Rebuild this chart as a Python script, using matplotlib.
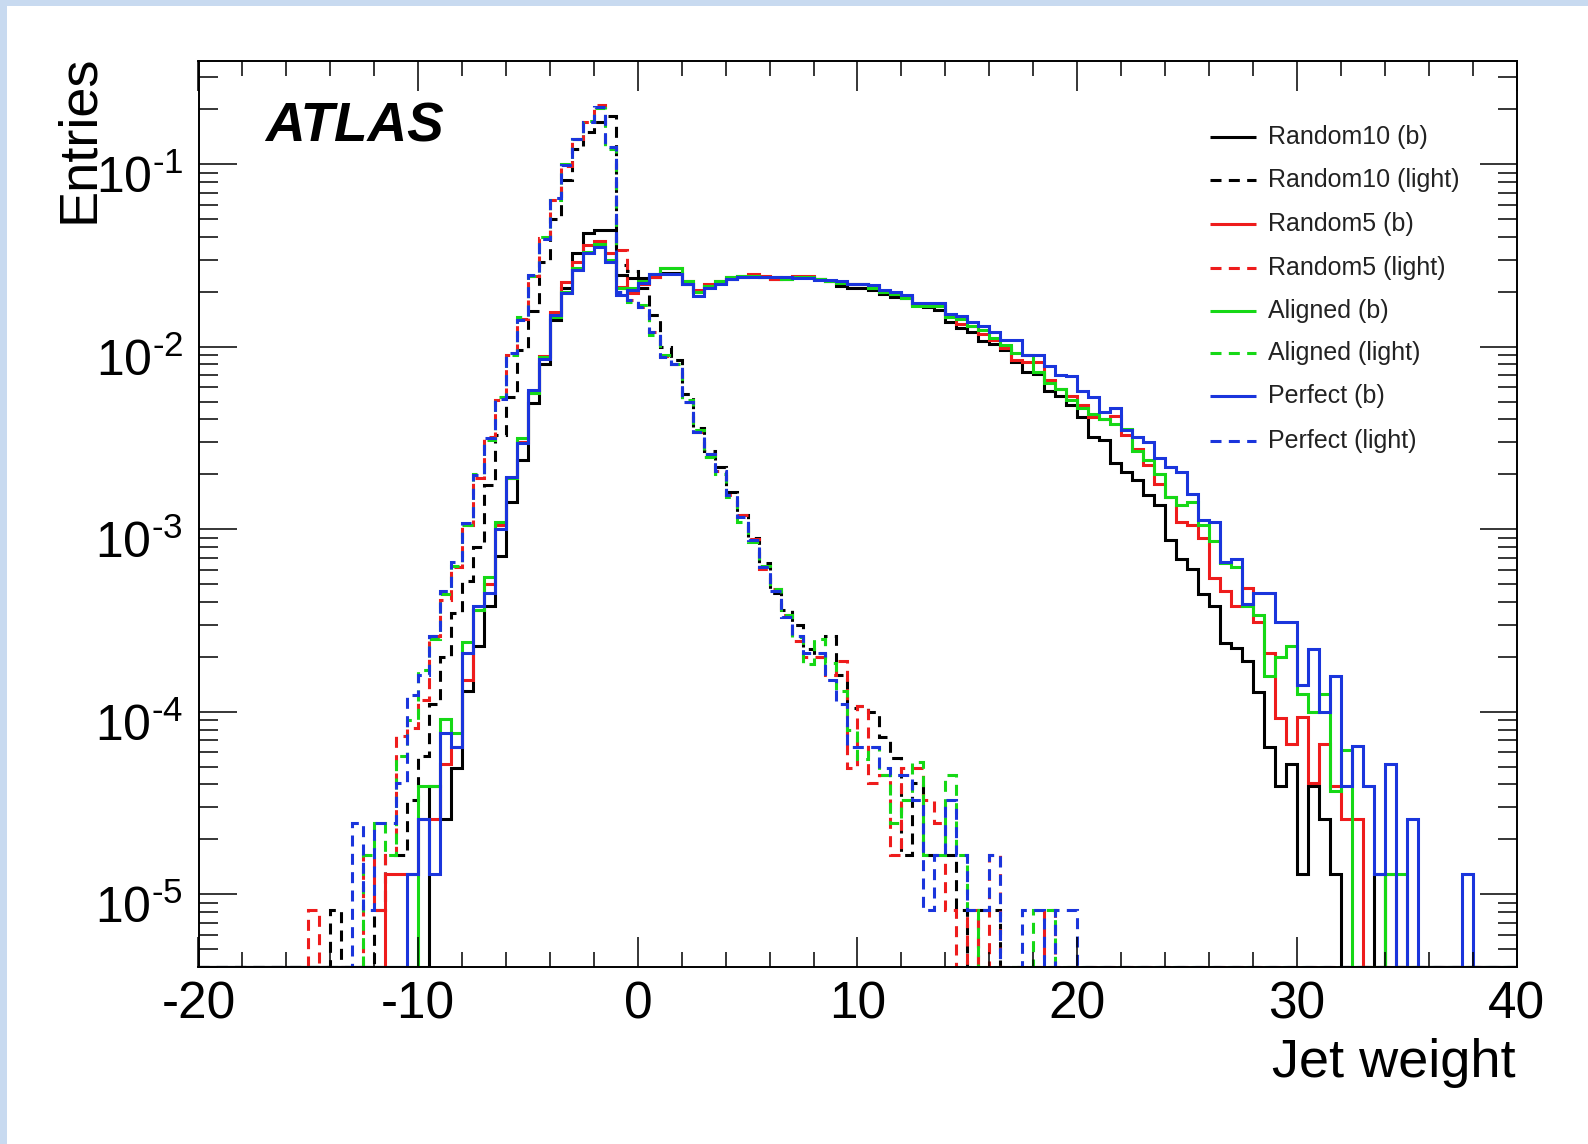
import numpy as np
import matplotlib
matplotlib.use("Agg")
import matplotlib.pyplot as plt
import matplotlib.transforms as mtransforms
from matplotlib.ticker import MultipleLocator, LogLocator, NullFormatter
from matplotlib.patches import Rectangle

plt.rcParams['font.family'] = ['Liberation Sans', 'DejaVu Sans']
plt.rcParams['mathtext.fontset'] = 'custom'
plt.rcParams['mathtext.rm'] = 'Liberation Sans'
plt.rcParams['mathtext.it'] = 'Liberation Sans:italic'
plt.rcParams['axes.unicode_minus'] = False

# ---------------- data (bin width 0.5, values per bin) ----------------
bin_width = 0.5
x_min, x_max = -20.0, 40.0

labels = ["Random10 (b)", "Random10 (light)", "Random5 (b)", "Random5 (light)",
          "Aligned (b)", "Aligned (light)", "Perfect (b)", "Perfect (light)"]

light_start = -15.0
b_start = -11.5

random10_light = [
    0, 0, 8.2e-6, 0, 0, 0, 8.2e-6, 1.64e-5, 1.64e-5, 3.3e-5,
    5.7e-5, 1.1e-4, 2.0e-4, 3.5e-4, 5.2e-4, 8.0e-4, 1.75e-3, 3.3e-3, 5.3e-3, 9.6e-3,
    1.58e-2, 2.9e-2, 5.0e-2, 8.2e-2, 0.122, 0.15, 0.17, 0.183, 2.8e-2, 2.6e-2,
    2.1e-2, 1.5e-2, 1.0e-2, 8.5e-3, 5.5e-3, 3.6e-3, 2.7e-3, 2.2e-3, 1.6e-3, 1.2e-3,
    9.0e-4, 6.5e-4, 4.5e-4, 3.6e-4, 3.0e-4, 2.2e-4, 2.0e-4, 2.6e-4, 1.6e-4, 1.05e-4,
    1.07e-4, 1.0e-4, 7.3e-5, 5.6e-5, 1.64e-5, 4.1e-5, 1.64e-5, 1.64e-5, 1.64e-5, 8.2e-6,
    0, 8.2e-6, 8.2e-6, 0, 0, 0, 0, 0, 0, 0,
]
random5_light = [
    8.2e-6, 0, 0, 0, 0, 1.64e-5, 8.2e-6, 1.64e-5, 7.4e-5, 8.2e-5,
    1.16e-4, 2.6e-4, 4.1e-4, 6.2e-4, 1.05e-3, 1.9e-3, 3.2e-3, 5.1e-3, 9.0e-3, 1.42e-2,
    2.45e-2, 3.95e-2, 6.4e-2, 9.8e-2, 0.138, 0.17, 0.21, 0.125, 3.4e-2, 1.8e-2,
    1.65e-2, 1.2e-2, 8.9e-3, 8.1e-3, 5.0e-3, 3.4e-3, 2.6e-3, 2.1e-3, 1.55e-3, 1.2e-3,
    8.8e-4, 6.1e-4, 4.7e-4, 3.4e-4, 2.45e-4, 2.0e-4, 2.0e-4, 1.6e-4, 1.9e-4, 4.9e-5,
    1.07e-4, 4.1e-5, 4.5e-5, 1.64e-5, 4.9e-5, 4.9e-5, 3.3e-5, 2.45e-5, 8.2e-6, 0,
    8.2e-6, 0, 1.64e-5, 0, 0, 0, 0, 8.2e-6, 0, 0,
]
aligned_light = [
    0, 0, 0, 0, 0, 1.64e-5, 2.45e-5, 1.64e-5, 5.7e-5, 9.0e-5,
    1.7e-4, 2.5e-4, 4.4e-4, 6.3e-4, 1.05e-3, 2.0e-3, 3.1e-3, 5.3e-3, 9.0e-3, 1.45e-2,
    2.45e-2, 4.0e-2, 6.4e-2, 0.100, 0.137, 0.172, 0.203, 0.122, 2.1e-2, 1.75e-2,
    1.7e-2, 1.16e-2, 9.0e-3, 8.0e-3, 5.1e-3, 3.5e-3, 2.5e-3, 2.0e-3, 1.5e-3, 1.1e-3,
    8.5e-4, 6.3e-4, 4.7e-4, 3.4e-4, 2.58e-4, 1.84e-4, 2.5e-4, 1.85e-4, 1.3e-4, 8.0e-5,
    5.5e-5, 6.4e-5, 4.5e-5, 2.45e-5, 3.3e-5, 5.3e-5, 1.64e-5, 1.64e-5, 4.5e-5, 1.64e-5,
    8.2e-6, 0, 0, 0, 0, 0, 8.2e-6, 8.2e-6, 0, 0,
]
perfect_light = [
    0, 0, 0, 0, 2.45e-5, 8.2e-6, 2.45e-5, 2.45e-5, 4.1e-5, 1.23e-4,
    1.6e-4, 2.6e-4, 4.6e-4, 6.6e-4, 1.08e-3, 1.98e-3, 3.15e-3, 5.2e-3, 9.2e-3, 1.4e-2,
    2.47e-2, 3.9e-2, 6.5e-2, 9.9e-2, 0.138, 0.171, 0.206, 0.124, 2.0e-2, 1.8e-2,
    1.65e-2, 1.2e-2, 8.8e-3, 8.1e-3, 5.0e-3, 3.4e-3, 2.6e-3, 2.1e-3, 1.54e-3, 1.17e-3,
    8.7e-4, 6.2e-4, 4.6e-4, 3.3e-4, 2.6e-4, 2.1e-4, 2.1e-4, 1.5e-4, 1.1e-4, 6.4e-5,
    6.4e-5, 6.4e-5, 4.9e-5, 4.5e-5, 4.5e-5, 3.3e-5, 8.2e-6, 1.64e-5, 3.3e-5, 1.64e-5,
    8.2e-6, 8.2e-6, 1.64e-5, 0, 0, 8.2e-6, 8.2e-6, 0, 8.2e-6, 8.2e-6,
]

random10_b = [
    0, 0, 0, 0, 3.9e-5, 2.6e-5, 4.9e-5, 1.3e-4, 2.3e-4, 3.8e-4,
    7.1e-4, 1.42e-3, 2.39e-3, 4.9e-3, 8.0e-3, 1.4e-2, 2.1e-2, 3.25e-2, 4.18e-2, 4.35e-2,
    4.35e-2, 2.47e-2, 2.37e-2, 2.37e-2, 2.4e-2, 2.55e-2, 2.55e-2, 2.2e-2, 2.0e-2, 2.15e-2,
    2.25e-2, 2.35e-2, 2.4e-2, 2.45e-2, 2.4e-2, 2.35e-2, 2.35e-2, 2.4e-2, 2.4e-2, 2.35e-2,
    2.3e-2, 2.15e-2, 2.1e-2, 2.1e-2, 2.05e-2, 1.95e-2, 1.88e-2, 1.85e-2, 1.7e-2, 1.65e-2,
    1.6e-2, 1.37e-2, 1.27e-2, 1.21e-2, 1.07e-2, 1.04e-2, 9.6e-3, 8.3e-3, 7.3e-3, 7.1e-3,
    5.7e-3, 5.4e-3, 4.8e-3, 4.1e-3, 3.2e-3, 3.08e-3, 2.3e-3, 2.05e-3, 1.86e-3, 1.55e-3,
    1.36e-3, 8.7e-4, 6.9e-4, 6.1e-4, 4.4e-4, 3.8e-4, 2.37e-4, 2.23e-4, 1.9e-4, 1.29e-4,
    6.4e-5, 3.9e-5, 5.2e-5, 1.3e-5, 3.9e-5, 2.6e-5, 1.3e-5, 0, 0, 0,
    1.3e-5,
]
random5_b = [
    1.3e-5, 1.3e-5, 1.3e-5, 2.6e-5, 2.6e-5, 5.2e-5, 6.4e-5, 1.5e-4, 3.6e-4, 5.0e-4,
    1.05e-3, 1.9e-3, 3.0e-3, 5.6e-3, 8.9e-3, 1.55e-2, 2.27e-2, 2.9e-2, 3.6e-2, 3.8e-2,
    3.25e-2, 2.13e-2, 1.96e-2, 2.2e-2, 2.4e-2, 2.7e-2, 2.7e-2, 2.3e-2, 2.05e-2, 2.2e-2,
    2.3e-2, 2.4e-2, 2.45e-2, 2.5e-2, 2.45e-2, 2.35e-2, 2.4e-2, 2.45e-2, 2.45e-2, 2.35e-2,
    2.3e-2, 2.25e-2, 2.2e-2, 2.2e-2, 2.15e-2, 2.0e-2, 1.95e-2, 1.9e-2, 1.72e-2, 1.7e-2,
    1.68e-2, 1.45e-2, 1.33e-2, 1.3e-2, 1.17e-2, 1.09e-2, 9.8e-3, 8.45e-3, 8.3e-3, 8.3e-3,
    6.6e-3, 5.9e-3, 5.4e-3, 4.8e-3, 4.1e-3, 4.0e-3, 4.2e-3, 3.3e-3, 2.75e-3, 2.25e-3,
    1.77e-3, 1.5e-3, 1.1e-3, 1.05e-3, 9.0e-4, 5.4e-4, 4.6e-4, 3.8e-4, 4.8e-4, 3.1e-4,
    2.1e-4, 9.3e-5, 6.7e-5, 9.4e-5, 4.1e-5, 6.7e-5, 3.9e-5, 2.6e-5, 2.6e-5, 0,
    0, 1.3e-5,
]
aligned_b = [
    0, 0, 0, 3.9e-5, 3.9e-5, 9.1e-5, 7.7e-5, 2.4e-4, 3.6e-4, 5.5e-4,
    1.1e-3, 1.9e-3, 3.15e-3, 5.6e-3, 8.8e-3, 1.45e-2, 2.0e-2, 2.7e-2, 3.3e-2, 3.65e-2,
    3.0e-2, 2.1e-2, 2.1e-2, 2.3e-2, 2.5e-2, 2.7e-2, 2.7e-2, 2.3e-2, 2.0e-2, 2.15e-2,
    2.3e-2, 2.4e-2, 2.45e-2, 2.45e-2, 2.4e-2, 2.4e-2, 2.35e-2, 2.4e-2, 2.4e-2, 2.35e-2,
    2.3e-2, 2.25e-2, 2.2e-2, 2.2e-2, 2.1e-2, 2.0e-2, 1.95e-2, 1.85e-2, 1.67e-2, 1.67e-2,
    1.67e-2, 1.45e-2, 1.42e-2, 1.3e-2, 1.24e-2, 1.12e-2, 1.02e-2, 9.2e-3, 9.0e-3, 7.3e-3,
    6.3e-3, 5.9e-3, 5.1e-3, 4.6e-3, 4.3e-3, 4.0e-3, 3.8e-3, 3.55e-3, 2.7e-3, 2.4e-3,
    2.0e-3, 1.5e-3, 1.36e-3, 1.42e-3, 1.05e-3, 8.6e-4, 6.5e-4, 6.2e-4, 3.8e-4, 3.4e-4,
    1.57e-4, 2.0e-4, 2.3e-4, 1.25e-4, 1.0e-4, 1.25e-4, 3.7e-5, 6.2e-5, 0, 0,
    0, 1.3e-5, 1.3e-5,
]
perfect_b = [
    0, 0, 1.3e-5, 2.6e-5, 1.3e-5, 7.7e-5, 6.4e-5, 2.1e-4, 3.8e-4, 4.5e-4,
    1.01e-3, 1.94e-3, 2.96e-3, 5.8e-3, 8.6e-3, 1.49e-2, 1.96e-2, 2.63e-2, 3.25e-2, 3.53e-2,
    2.92e-2, 1.92e-2, 2.04e-2, 2.25e-2, 2.5e-2, 2.5e-2, 2.5e-2, 2.22e-2, 1.9e-2, 2.1e-2,
    2.2e-2, 2.35e-2, 2.42e-2, 2.42e-2, 2.42e-2, 2.42e-2, 2.4e-2, 2.38e-2, 2.38e-2, 2.33e-2,
    2.33e-2, 2.28e-2, 2.22e-2, 2.22e-2, 2.18e-2, 2.04e-2, 2.0e-2, 1.92e-2, 1.73e-2, 1.73e-2,
    1.73e-2, 1.52e-2, 1.47e-2, 1.37e-2, 1.3e-2, 1.21e-2, 1.09e-2, 1.09e-2, 9.0e-3, 9.0e-3,
    7.8e-3, 7.0e-3, 6.9e-3, 5.7e-3, 5.3e-3, 4.4e-3, 4.6e-3, 3.5e-3, 3.2e-3, 3.0e-3,
    2.45e-3, 2.2e-3, 2.05e-3, 1.57e-3, 1.12e-3, 1.1e-3, 6.6e-4, 6.9e-4, 3.9e-4, 4.5e-4,
    4.5e-4, 3.1e-4, 3.1e-4, 1.4e-4, 2.2e-4, 1.0e-4, 1.57e-4, 3.9e-5, 6.5e-5, 3.9e-5,
    1.3e-5, 5.2e-5, 0, 2.6e-5, 0, 0, 0, 0, 1.3e-5,
]

series_values = [random10_b, random10_light, random5_b, random5_light,
                 aligned_b, aligned_light, perfect_b, perfect_light]
series_starts = [b_start, light_start, b_start, light_start,
                 b_start, light_start, b_start, light_start]

y_tick_values = [1e-5, 1e-4, 1e-3, 1e-2, 1e-1]
y_tick_labels = [r'$10^{\text{-}5}$', r'$10^{\text{-}4}$', r'$10^{\text{-}3}$',
                 r'$10^{\text{-}2}$', r'$10^{\text{-}1}$']

# ---------------- styling ----------------
colors = ['black', 'black', '#ee1c1c', '#ee1c1c', '#16d816', '#16d816', '#1a35dc', '#1a35dc']
dashed = [False, True, False, True, False, True, False, True]
dash_style = (0, (3.6, 2.4))
lw = 2.2

y_min, y_max = 4.0e-6, 0.368

W, H = 1588, 1144
fig = plt.figure(figsize=(W / 100, H / 100), dpi=100)
fig.patch.set_facecolor('white')
# light blue frame strips (left and top)
fig.patches.append(Rectangle((0, 0), 7 / W, 1, transform=fig.transFigure,
                             facecolor='#c8daf0', edgecolor='none', zorder=0))
fig.patches.append(Rectangle((0, 1 - 5.5 / H), 1, 5.5 / H, transform=fig.transFigure,
                             facecolor='#c8daf0', edgecolor='none', zorder=0))

ax_l, ax_r, ax_b, ax_t = 198.5, 1516.5, 967.0, 61.0
ax = fig.add_axes([ax_l / W, 1 - ax_b / H, (ax_r - ax_l) / W, (ax_b - ax_t) / H])
ax.set_yscale('log')
ax.set_xlim(x_min, x_max)
ax.set_ylim(y_min, y_max)

n_bins = int(round((x_max - x_min) / bin_width))
edges = np.linspace(x_min, x_max, n_bins + 1)

for vals, start, col, dsh in zip(series_values, series_starts, colors, dashed):
    full = np.zeros(n_bins)
    i0 = int(round((start - x_min) / bin_width))
    v = np.asarray(vals, dtype=float)
    full[i0:i0 + len(v)] = v
    full = np.where(full > 0, full, y_min)
    ax.stairs(full, edges, baseline=None, fill=False, color=col, linewidth=lw,
              linestyle=dash_style if dsh else '-', joinstyle='miter')

# ticks (ROOT style, inside, mirrored)
ax.xaxis.set_major_locator(MultipleLocator(10))
ax.xaxis.set_minor_locator(MultipleLocator(2))
ax.yaxis.set_minor_locator(LogLocator(base=10, subs=np.arange(2, 10), numticks=20))
ax.yaxis.set_minor_formatter(NullFormatter())
ax.xaxis.set_tick_params(which='major', direction='in', length=21.5, width=1.1,
                         top=True, bottom=True, pad=10, labelsize=37)
ax.xaxis.set_tick_params(which='minor', direction='in', length=10.8, width=1.1,
                         top=True, bottom=True)
ax.yaxis.set_tick_params(which='major', direction='in', length=27, width=1.1,
                         left=True, right=True, pad=11, labelsize=36)
ax.yaxis.set_tick_params(which='minor', direction='in', length=13.7, width=1.1,
                         left=True, right=True)
ax.set_yticks(y_tick_values)
ax.set_yticklabels(y_tick_labels)
shift = mtransforms.ScaledTranslation(0, -10 / 100, fig.dpi_scale_trans)
for lbl in ax.get_yticklabels():
    lbl.set_transform(lbl.get_transform() + shift)
for s in ax.spines.values():
    s.set_linewidth(1.4)

# texts
ax.text((265 - ax_l) / (ax_r - ax_l), 1 - (141.8 - ax_t) / (ax_b - ax_t), 'ATLAS',
        transform=ax.transAxes, fontsize=39.5, fontweight='bold', fontstyle='italic',
        ha='left', va='baseline')
fig.text(93 / W, 1 - 139 / H, 'Entries', rotation=90, rotation_mode='anchor',
         ha='center', va='baseline', fontsize=39)
fig.text(1516 / W, 1 - 1077 / H, 'Jet weight', ha='right', va='baseline', fontsize=39)

# legend (drawn manually, ROOT-like)
leg_x0 = (1210 - ax_l) / (ax_r - ax_l)
leg_x1 = (1256 - ax_l) / (ax_r - ax_l)
leg_tx = (1268 - ax_l) / (ax_r - ax_l)
row_y_px = [136.7, 180.3, 223.8, 268.4, 310.9, 353.5, 396.0, 440.6]
for lab, col, dsh, ypx in zip(labels, colors, dashed, row_y_px):
    yf = 1 - (ypx - ax_t) / (ax_b - ax_t)
    ax.plot([leg_x0, leg_x1], [yf, yf], transform=ax.transAxes, color=col,
            linewidth=lw, linestyle=dash_style if dsh else '-', clip_on=False,
            solid_capstyle='butt', dash_capstyle='butt')
    ax.text(leg_tx, yf, lab, transform=ax.transAxes, fontsize=18, color='#222222',
            ha='left', va='center')

fig.savefig('out.png', dpi=100, facecolor=fig.get_facecolor())
